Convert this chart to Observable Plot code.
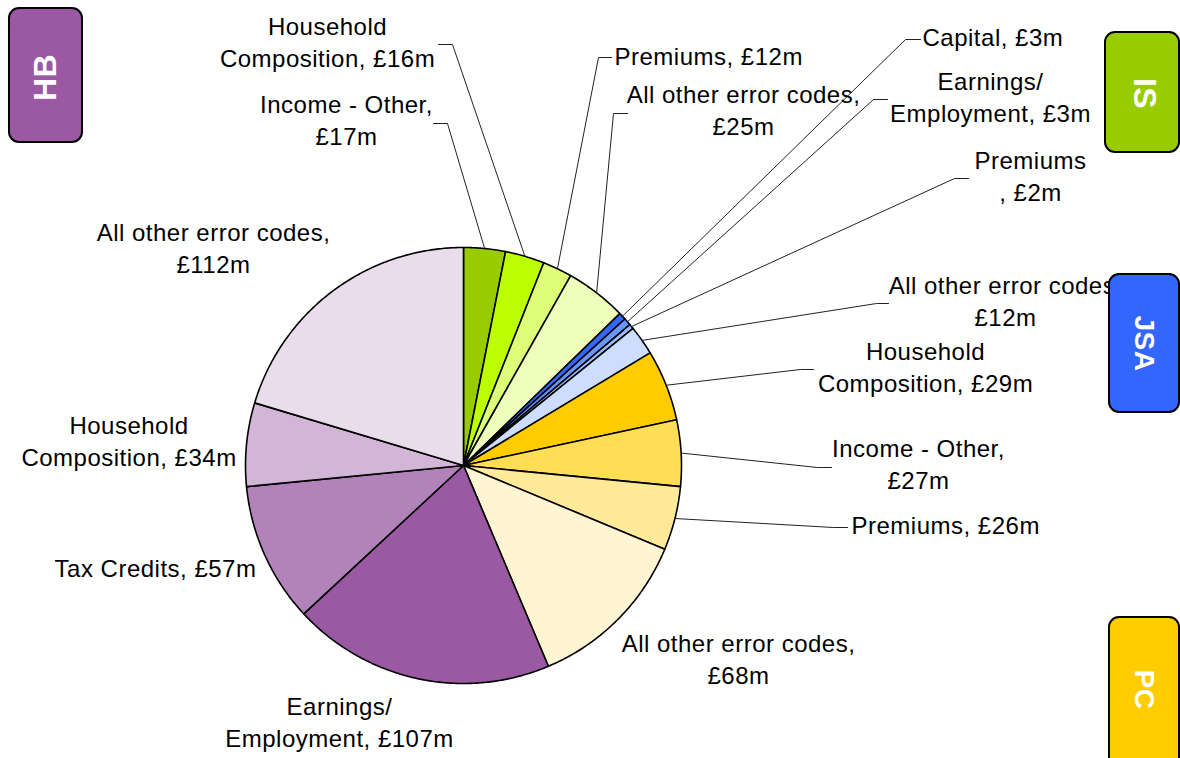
<!DOCTYPE html>
<html><head><meta charset="utf-8">
<script src="https://cdn.jsdelivr.net/npm/d3@7"></script>
<script src="https://cdn.jsdelivr.net/npm/@observablehq/plot@0.6"></script>
<style>html,body{margin:0;padding:0;background:#fff;overflow:hidden}</style>
</head><body><div id="chart"></div>
<script>
// ---- data ----
const programmes = ["IS","IS","IS","IS","JSA","JSA","JSA","JSA","PC","PC","PC","PC","HB","HB","HB","HB"];
const errorCodes = ["Income - Other","Household Composition","Premiums","All other error codes",
  "Capital","Earnings/ Employment","Premiums","All other error codes",
  "Household Composition","Income - Other","Premiums","All other error codes",
  "Earnings/ Employment","Tax Credits","Household Composition","All other error codes"];
const amounts = [17,16,12,25, 3,3,2,12, 29,27,26,68, 107,57,34,112];
const labelTexts = [
  "Income - Other,\n£17m","Household\nComposition, £16m","Premiums, £12m","All other error codes,\n£25m",
  "Capital, £3m","Earnings/\nEmployment, £3m","Premiums\n, £2m","All other error codes,\n£12m",
  "Household\nComposition, £29m","Income - Other,\n£27m","Premiums, £26m","All other error codes,\n£68m",
  "Earnings/\nEmployment, £107m","Tax Credits, £57m","Household\nComposition, £34m","All other error codes,\n£112m"];
const sliceColors = ["#99CC00","#BBFF00","#DDFF77","#EEFFBB",
  "#3366FF","#6699FF","#99BBFF","#CCDDFF",
  "#FFCC00","#FFDD55","#FFEA99","#FFF5D2",
  "#9B59A4","#B183BA","#D3B5D7","#E9DDEC"];
const groupNames = ["HB","IS","JSA","PC"];
const groupColors = ["#9B59A4","#99CC00","#3366FF","#FFCC00"];

// ---- layout (pixel space) ----
const W = 1180, H = 758;
const cx = 463, cy = 465, R = 218;
const labelPos = [
  [346,120.5,"middle"],[327,42.5,"middle"],[614,56.5,"start"],[743,110.5,"middle"],
  [922,37,"start"],[990,97,"middle"],[1030,176.5,"middle"],[1005,301,"middle"],
  [925,367,"middle"],[918,464.5,"middle"],[851,525,"start"],[738,659,"middle"],
  [339,722.5,"middle"],[155,568,"middle"],[128.5,441,"middle"],[213,248,"middle"]];
const leaderBends = [
  [[447,123],[433,123]],[[452,44],[438,44]],[[598,57],[611,57]],[[613,113],[627,113]],
  [[905,39],[920,39]],[[873,99],[887,99]],[[954,178],[968,178]],[[876,303],[888,303]],
  [[800,369],[813,369]],[[817,467],[831,467]],[[833,527],[847,527]],null,
  null,null,null,null];
const boxLayout = [
  {x1:9,x2:82,y1:8,y2:142,tx:45,ty:77,rot:-90,fs:32},
  {x1:1105,x2:1179,y1:32,y2:152,tx:1144,ty:93,rot:90,fs:32},
  {x1:1109,x2:1179,y1:274,y2:412,tx:1143,ty:343,rot:90,fs:28},
  {x1:1109,x2:1179,y1:617,y2:775,tx:1143,ty:689,rot:90,fs:28}];

// ---- geometry from values ----
const arcs = d3.pie().sort(null).value(d => d)(amounts);
const pt = (a, r) => ({x: cx + r * Math.sin(a), y: cy - r * Math.cos(a)});
const slices = arcs.map((a, i) => {
  const pts = [{x: cx, y: cy}];
  const n = Math.max(2, Math.ceil((a.endAngle - a.startAngle) / (Math.PI / 360)));
  for (let k = 0; k <= n; k++) pts.push(pt(a.startAngle + (a.endAngle - a.startAngle) * k / n, R));
  pts.push({x: cx, y: cy});
  return {pts, color: sliceColors[i]};
});
const leaders = [];
arcs.forEach((a, i) => {
  if (!leaderBends[i]) return;
  const m = (a.startAngle + a.endAngle) / 2;
  const e = pt(m, R);
  leaders.push({k: i, x: e.x, y: e.y});
  leaderBends[i].forEach(p => leaders.push({k: i, x: p[0], y: p[1]}));
});
const labels = labelTexts.map((t, i) => ({text: t, x: labelPos[i][0], y: labelPos[i][1], anchor: labelPos[i][2]}));
const boxes = groupNames.map((g, i) => ({name: g, color: groupColors[i], ...boxLayout[i]}));

const font = "Liberation Sans, Arial, sans-serif";
const marks = [];
slices.forEach(s => marks.push(Plot.line(s.pts, {x: "x", y: "y", fill: s.color, stroke: "#000", strokeWidth: 1.6, strokeLinejoin: "round"})));
marks.push(Plot.line(leaders, {x: "x", y: "y", z: "k", stroke: "#222", strokeWidth: 1}));
["start", "middle"].forEach(anc => {
  marks.push(Plot.text(labels.filter(d => d.anchor === anc), {
    x: "x", y: "y", text: "text", textAnchor: anc, lineHeight: 1.33, dy: -2,
    fontSize: 24, fontFamily: font, fill: "#000"}));
});
marks.push(Plot.rect(boxes, {x1: "x1", x2: "x2", y1: "y1", y2: "y2", fill: "color", stroke: "#000", strokeWidth: 2, rx: 10}));
boxes.forEach(b => marks.push(Plot.text([b], {x: "tx", y: "ty", text: "name", rotate: b.rot, fontSize: b.fs, fontWeight: "bold", fontFamily: font, fill: "#fff"})));

const chart = Plot.plot({
  width: W, height: H, margin: 0,
  x: {domain: [0, W], range: [0, W], axis: null},
  y: {domain: [0, H], range: [0, H], axis: null},
  style: {background: "#fff", overflow: "hidden", letterSpacing: "0.5px"},
  marks
});
document.getElementById("chart").appendChild(chart);
</script>
</body></html>
